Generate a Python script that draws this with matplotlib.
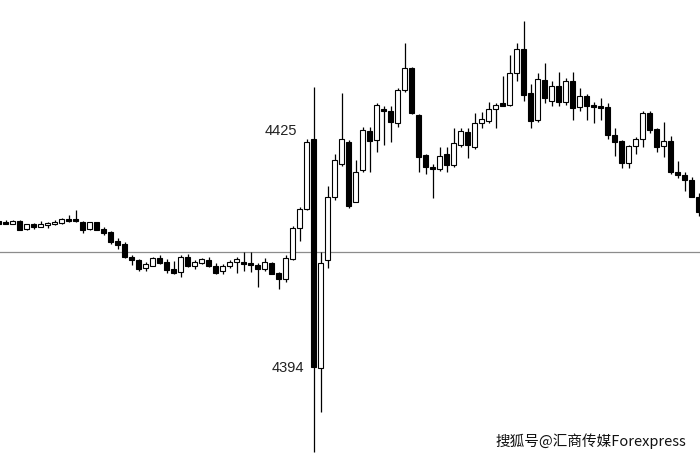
import matplotlib
matplotlib.use('Agg')
import matplotlib.pyplot as plt
import numpy as np

plt.rcParams.update({'font.size': 10})

# candle data (index -1 is the half-cut bar at the left edge)
opens = [4413.9, 4413.8, 4413.5, 4413.9, 4412.8, 4413.5, 4413.1, 4413.3, 4413.4, 4413.6,
         4414.2, 4414.1, 4413.8, 4412.8, 4413.7, 4412.8, 4412.4, 4411.1, 4410.8, 4408.9,
         4408.6, 4407.4, 4407.8, 4408.8, 4408.3, 4407.3, 4406.9, 4409.0, 4407.7, 4408.1,
         4408.6, 4407.7, 4407.1, 4407.7, 4408.3, 4408.2, 4408.1, 4407.9, 4407.3, 4408.2,
         4406.8, 4405.9, 4408.7, 4412.9, 4415.5, 4425.0, 4393.8, 4408.5, 4417.1, 4421.7,
         4424.7, 4416.5, 4420.8, 4426.2, 4424.9, 4429.2, 4428.9, 4427.3, 4431.7, 4434.7,
         4428.3, 4422.9, 4421.3, 4421.0, 4423.0, 4421.5, 4424.2, 4426.0, 4424.0, 4427.2,
         4427.5, 4429.1, 4429.8, 4429.7, 4434.1, 4437.3, 4431.3, 4427.6, 4433.1, 4430.2,
         4432.3, 4430.1, 4433.0, 4429.4, 4430.9, 4429.7, 4429.5, 4429.4, 4425.6, 4424.8,
         4421.8, 4424.1, 4425.0, 4428.6, 4426.4, 4424.1, 4424.8, 4420.6, 4420.2, 4419.4,
         4417.2]
highs = [4414.0, 4414.0, 4414.0, 4414.0, 4413.4, 4413.6, 4413.9, 4413.7, 4414.0, 4414.3,
         4414.7, 4415.4, 4413.9, 4413.8, 4413.8, 4413.0, 4412.5, 4411.5, 4411.0, 4409.2,
         4408.7, 4408.3, 4408.9, 4409.2, 4408.7, 4408.4, 4409.2, 4409.4, 4408.6, 4408.8,
         4408.9, 4408.2, 4408.0, 4408.6, 4408.9, 4409.6, 4409.7, 4408.2, 4408.8, 4408.3,
         4406.9, 4409.2, 4413.2, 4415.8, 4425.0, 4432.2, 4409.6, 4418.6, 4423.0, 4431.3,
         4424.9, 4422.2, 4426.7, 4426.7, 4429.9, 4429.5, 4429.5, 4432.0, 4438.1, 4434.8,
         4428.4, 4423.0, 4421.6, 4424.0, 4424.0, 4426.6, 4426.5, 4426.5, 4428.6, 4428.7,
         4430.1, 4429.9, 4433.7, 4436.5, 4438.1, 4441.1, 4432.6, 4434.0, 4435.4, 4432.9,
         4434.2, 4433.4, 4434.2, 4432.0, 4431.2, 4430.1, 4430.6, 4429.9, 4426.5, 4424.9,
         4424.2, 4425.3, 4428.8, 4428.9, 4426.5, 4427.4, 4425.5, 4422.0, 4420.6, 4419.9,
         4417.7]
lows = [4413.4, 4413.4, 4413.4, 4412.6, 4412.6, 4412.8, 4413.1, 4412.9, 4413.3, 4413.4,
        4413.7, 4413.7, 4412.3, 4412.7, 4412.6, 4411.9, 4410.8, 4410.1, 4408.8, 4407.9,
        4407.1, 4407.1, 4407.7, 4408.0, 4406.8, 4406.7, 4406.2, 4407.6, 4407.3, 4408.0,
        4407.6, 4406.6, 4406.7, 4407.4, 4406.8, 4407.0, 4406.9, 4404.9, 4407.1, 4406.6,
        4404.6, 4405.6, 4408.6, 4411.2, 4415.4, 4382.4, 4387.9, 4407.4, 4416.8, 4421.4,
        4415.6, 4416.4, 4420.6, 4420.6, 4423.3, 4424.2, 4424.7, 4426.7, 4431.5, 4428.5,
        4420.5, 4420.3, 4417.0, 4420.7, 4420.6, 4421.2, 4423.9, 4422.4, 4423.7, 4426.5,
        4427.2, 4426.5, 4429.5, 4429.6, 4433.0, 4430.2, 4426.6, 4427.4, 4430.0, 4429.5,
        4429.6, 4429.7, 4427.6, 4428.9, 4427.6, 4427.3, 4427.6, 4425.0, 4422.7, 4421.1,
        4421.1, 4423.0, 4423.9, 4425.9, 4423.3, 4422.6, 4420.3, 4419.7, 4418.0, 4417.1,
        4414.5]
closes = [4413.5, 4413.5, 4413.9, 4412.7, 4413.4, 4413.0, 4413.5, 4413.6, 4413.8, 4414.1,
          4413.9, 4413.9, 4412.6, 4413.7, 4412.7, 4412.2, 4411.0, 4410.6, 4408.9, 4408.6,
          4407.3, 4408.0, 4408.8, 4408.2, 4407.2, 4406.8, 4408.9, 4407.7, 4408.3, 4408.7,
          4407.7, 4406.8, 4407.7, 4408.3, 4408.7, 4408.0, 4407.9, 4407.3, 4408.3, 4406.7,
          4406.0, 4408.8, 4412.9, 4415.5, 4424.7, 4394.0, 4408.2, 4417.1, 4422.2, 4425.1,
          4415.9, 4420.5, 4426.3, 4424.8, 4429.7, 4428.8, 4427.4, 4431.7, 4434.7, 4428.6,
          4422.6, 4421.2, 4421.0, 4422.7, 4421.5, 4424.5, 4426.1, 4424.2, 4427.2, 4427.8,
          4429.2, 4429.7, 4429.6, 4434.0, 4437.3, 4431.1, 4427.5, 4433.2, 4430.6, 4432.3,
          4430.1, 4433.0, 4429.3, 4430.9, 4429.5, 4429.4, 4429.3, 4425.6, 4424.7, 4421.8,
          4424.1, 4425.1, 4428.6, 4426.3, 4423.9, 4424.8, 4420.5, 4420.1, 4419.4, 4417.2,
          4415.1]
ref_level = 4409.7
label_hi = '4425'
label_lo = '4394'
watermark = '搜狐号@汇商传媒Forexpress'

o = np.array(opens); h = np.array(highs); l = np.array(lows); c = np.array(closes)
x = np.arange(len(o)) - 1
up = c >= o

fig = plt.figure(figsize=(7, 4.57), dpi=100)
ax = fig.add_axes([0, 0, 1, 1])
ax.axis('off')

ax.axhline(ref_level, color='#8c8c8c', lw=0.9, zorder=1)

ax.vlines(x, l, h, color='black', lw=0.9, zorder=2)
body_lo = np.minimum(o, c)
body_h = np.maximum(np.abs(c - o), 0.3)
ax.bar(x[up], body_h[up], bottom=body_lo[up], width=0.64,
       color='white', edgecolor='black', linewidth=0.8, zorder=3)
ax.bar(x[~up], body_h[~up], bottom=body_lo[~up], width=0.64,
       color='black', edgecolor='black', linewidth=0.8, zorder=3)

ax.text(41.6, 4426.1, label_hi, ha='right', va='center', fontsize=10.5,
        color='#222222', family='Liberation Sans')
ax.text(42.6, 4393.8, label_lo, ha='right', va='center', fontsize=10.5,
        color='#222222', family='Liberation Sans')

ax.set_xlim(-0.786, 99.214)
ax.set_ylim(4381.7, 4444.0)

fig.text(0.98, 0.035, watermark, ha='right', va='center', fontsize=10.5,
         color='#111111', fontweight='medium',
         family=['Noto Sans CJK SC', 'DejaVu Sans'])

fig.savefig('out.png', dpi=100, facecolor='white')
